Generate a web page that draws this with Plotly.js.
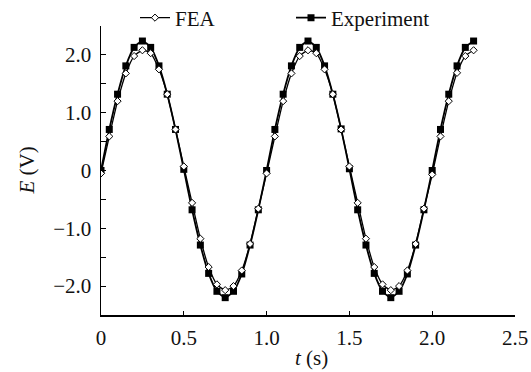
<!DOCTYPE html>
<html>
<head>
<meta charset="utf-8">
<script src="https://cdn.plot.ly/plotly-3.0.1.min.js"></script>
<style>html,body{margin:0;padding:0;background:#fff;}#chart{width:531px;height:372px;}</style>
</head>
<body>
<div id="chart"></div>
<script>
var timeS = [0, 0.05, 0.1, 0.15, 0.2, 0.25, 0.3, 0.35, 0.4, 0.45,
  0.5, 0.55, 0.6, 0.65, 0.7, 0.75, 0.8, 0.85, 0.9, 0.95,
  1.0, 1.05, 1.1, 1.15, 1.2, 1.25, 1.3, 1.35, 1.4, 1.45,
  1.5, 1.55, 1.6, 1.65, 1.7, 1.75, 1.8, 1.85, 1.9, 1.95,
  2.0, 2.05, 2.1, 2.15, 2.2, 2.25];
var experimentE = [0, 0.71, 1.32, 1.81, 2.13, 2.24, 2.13, 1.81, 1.32, 0.71,
  0.02, -0.68, -1.29, -1.78, -2.09, -2.2, -2.09, -1.79, -1.29, -0.68,
  0, 0.71, 1.32, 1.81, 2.13, 2.24, 2.13, 1.81, 1.32, 0.72,
  0.03, -0.68, -1.29, -1.78, -2.09, -2.2, -2.09, -1.79, -1.29, -0.68,
  0, 0.71, 1.32, 1.81, 2.13, 2.24];
var feaE = [-0.05, 0.59, 1.2, 1.68, 1.98, 2.08, 2.03, 1.75, 1.32, 0.71,
  0.07, -0.56, -1.18, -1.67, -1.97, -2.07, -2.0, -1.73, -1.27, -0.66,
  -0.05, 0.59, 1.2, 1.68, 1.98, 2.08, 2.03, 1.75, 1.32, 0.71,
  0.07, -0.56, -1.18, -1.67, -1.97, -2.07, -2.0, -1.73, -1.27, -0.66,
  -0.07, 0.59, 1.2, 1.69, 1.98, 2.08];
var xTickVals = [0, 0.5, 1.0, 1.5, 2.0, 2.5];
var xTickText = ['0', '0.5', '1.0', '1.5', '2.0', '2.5'];
var yTickVals = [-2.5, -2.0, -1.5, -1.0, -0.5, 0, 0.5, 1.0, 1.5, 2.0, 2.5];
var yTickText = ['', '\u22122.0', '', '\u22121.0', '', '0', '', '1.0', '', '2.0', ''];
var xTitle = '<i>t</i> (s)';
var yTitle = '<i>E</i> (V)';

var FONT = 'Liberation Serif';
var TXT = {family: FONT, size: 21, color: '#111'};

var traces = [
  {
    x: timeS, y: experimentE, name: 'Experiment', type: 'scatter', mode: 'lines+markers',
    line: {color: '#000', width: 1.8, shape: 'spline', smoothing: 0.6},
    marker: {symbol: 'square', size: 7, color: '#000'},
    legend: 'legend2'
  },
  {
    x: timeS, y: feaE, name: 'FEA', type: 'scatter', mode: 'lines+markers',
    line: {color: '#000', width: 1.3, shape: 'spline', smoothing: 0.6},
    marker: {symbol: 'diamond', size: 5.5, color: '#fff', line: {color: '#000', width: 1}},
    legend: 'legend'
  }
];

var layout = {
  width: 531, height: 372,
  paper_bgcolor: '#fff', plot_bgcolor: '#fff',
  margin: {l: 101, r: 16, t: 26, b: 57, autoexpand: false},
  font: TXT,
  showlegend: true,
  legend: {
    x: 135 / 531, y: 1 - 18 / 372, xref: 'container', yref: 'container', xanchor: 'left', yanchor: 'middle',
    orientation: 'h', bgcolor: 'rgba(0,0,0,0)', borderwidth: 0, font: TXT
  },
  legend2: {
    x: 291 / 531, y: 1 - 18 / 372, xref: 'container', yref: 'container', xanchor: 'left', yanchor: 'middle',
    orientation: 'h', bgcolor: 'rgba(0,0,0,0)', borderwidth: 0, font: TXT
  },
  xaxis: {
    range: [0, 2.5], autorange: false,
    tickmode: 'array', tickvals: xTickVals, ticktext: xTickText,
    ticks: 'inside', ticklen: 4, tickwidth: 1, tickcolor: '#000',
    showline: true, linecolor: '#000', linewidth: 1.5, mirror: false,
    showgrid: false, zeroline: false,
    tickfont: TXT, ticklabelstandoff: 3,
    automargin: false
  },
  yaxis: {
    range: [-2.5, 2.5], autorange: false,
    tickmode: 'array', tickvals: yTickVals, ticktext: yTickText,
    ticks: 'inside', ticklen: 5, tickwidth: 1, tickcolor: '#000',
    showline: true, linecolor: '#000', linewidth: 1.5, mirror: false,
    showgrid: false, zeroline: false,
    tickfont: TXT, ticklabelstandoff: 4,
    automargin: false
  },
  annotations: [
    {text: xTitle, xref: 'paper', yref: 'paper', x: 0.5, y: 0, xanchor: 'center', yanchor: 'middle',
     yshift: -43, xshift: 3, showarrow: false, font: TXT},
    {text: yTitle, xref: 'paper', yref: 'paper', x: 0, y: 0.5, xanchor: 'center', yanchor: 'middle',
     xshift: -75, textangle: -90, showarrow: false, font: TXT}
  ]
};

Plotly.newPlot('chart', traces, layout, {displayModeBar: false, staticPlot: true});
</script>
</body>
</html>
